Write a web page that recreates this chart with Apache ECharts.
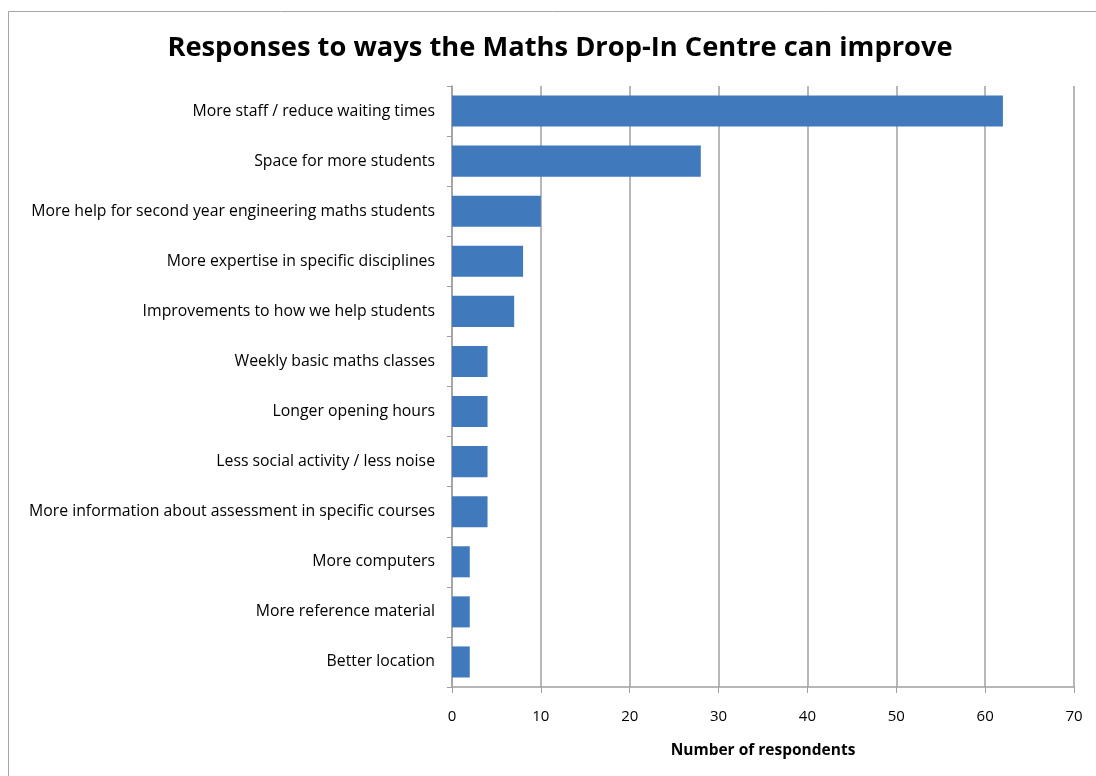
<!DOCTYPE html>
<html>
<head>
<meta charset="utf-8">
<script src="https://cdn.jsdelivr.net/npm/echarts@6/dist/echarts.min.js"></script>
<style>
  html, body { margin: 0; padding: 0; background: #fff; }
  #chart { width: 1096px; height: 776px; }
</style>
</head>
<body>
<div id="chart"></div>
<script>
// Survey responses, listed top to bottom
const categories = [
  'More staff / reduce waiting times',
  'Space for more students',
  'More help for second year engineering maths students',
  'More expertise in specific disciplines',
  'Improvements to how we help students',
  'Weekly basic maths classes',
  'Longer opening hours',
  'Less social activity / less noise',
  'More information about assessment in specific courses',
  'More computers',
  'More reference material',
  'Better location'
];
const respondents = [62, 28, 10, 8, 7, 4, 4, 4, 4, 2, 2, 2];
const xTicks = [0, 10, 20, 30, 40, 50, 60, 70];

const FONT = "'Open Sans', 'Liberation Sans', sans-serif";
const chart = echarts.init(document.getElementById('chart'));

chart.setOption({
  animation: false,
  backgroundColor: '#fff',
  title: {
    text: 'Responses to ways the Maths Drop-In Centre can improve',
    left: 555,
    textAlign: 'center',
    top: 30,
    textStyle: { fontFamily: FONT, fontSize: 27.3, fontWeight: 'bold', color: '#000' }
  },
  graphic: [{
    type: 'rect',
    shape: { x: 8.5, y: 11.5, width: 1200, height: 900 },
    style: { fill: 'none', stroke: '#a6a6a6', lineWidth: 1 },
    silent: true
  }],
  grid: { left: 452, right: 22, top: 86, bottom: 89 },
  xAxis: {
    type: 'value',
    min: xTicks[0],
    max: xTicks[xTicks.length - 1],
    interval: 10,
    name: 'Number of respondents',
    nameLocation: 'middle',
    nameGap: 56,
    nameTextStyle: { fontFamily: FONT, fontSize: 15.5, fontWeight: 'bold', color: '#000' },
    axisLine: { show: true, lineStyle: { color: '#a0a0a0', width: 1.5 } },
    axisTick: { show: true, length: 6, lineStyle: { color: '#a0a0a0' } },
    axisLabel: { fontFamily: FONT, fontSize: 15, color: '#000', margin: 22 },
    splitLine: { show: true, lineStyle: { color: '#a0a0a0', width: 1.5 } }
  },
  yAxis: {
    type: 'category',
    data: categories,
    inverse: true,
    axisLine: { show: true, lineStyle: { color: '#a0a0a0', width: 1.5 } },
    axisTick: { show: true, length: 5, lineStyle: { color: '#a0a0a0' } },
    axisLabel: { fontFamily: FONT, fontSize: 15.8, color: '#000', margin: 17 }
  },
  series: [{
    type: 'bar',
    data: respondents,
    barCategoryGap: '38%',
    itemStyle: { color: '#4179bd' }
  }]
});
</script>
</body>
</html>
